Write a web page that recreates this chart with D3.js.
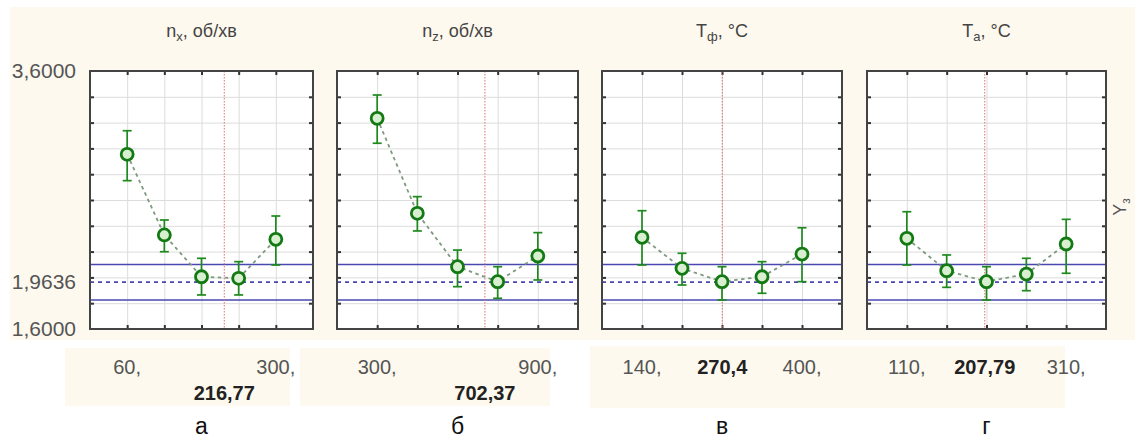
<!DOCTYPE html>
<meta charset="utf-8">
<style>
body { margin: 0; background: #fff; }
text { font-family: 'Liberation Sans', Arial, sans-serif; }
</style>
<body>
<svg width="1144" height="439"></svg>
<script src="https://d3js.org/d3.v7.min.js"></script>
<script>

// data
var titles = [["n", "x", ", об/хв"], ["n", "z", ", об/хв"], ["T", "ф", ", °C"], ["T", "a", ", °C"]];
var levels = [[60, 120, 180, 240, 300], [300, 450, 600, 750, 900], [140, 205, 270, 335, 400], [110, 160, 210, 260, 310]];
var means = [[2.954, 2.329, 2.005, 1.993, 2.295], [3.233, 2.497, 2.083, 1.967, 2.166], [2.311, 2.070, 1.967, 2.005, 2.181], [2.303, 2.052, 1.967, 2.026, 2.259]];
var lows  = [[2.750, 2.199, 1.864, 1.864, 2.096], [3.040, 2.360, 1.928, 1.838, 1.980], [2.096, 1.941, 1.825, 1.877, 1.967], [2.096, 1.923, 1.825, 1.897, 2.032]];
var highs = [[3.137, 2.445, 2.148, 2.122, 2.476], [3.414, 2.626, 2.212, 2.083, 2.347], [2.517, 2.187, 2.083, 2.122, 2.385], [2.509, 2.174, 2.083, 2.148, 2.450]];
var optimum = [216.77, 702.37, 270.4, 207.79];
var optLabels = ["216,77", "702,37", "270,4", "207,79"];
var endLabels = [["60,", "300,"], ["300,", "900,"], ["140,", "400,"], ["110,", "310,"]];
var letters = ["а", "б", "в", "г"];
var yLabels = [3.6, 1.9636, 1.6];
var yGrid = [1.8, 2.0, 2.2, 2.4, 2.6, 2.8, 3.0, 3.2, 3.4];
var target = 1.9636, band = [1.825, 2.10];

var svg = d3.select("svg");
var plotTop = 71, plotBottom = 329;
var px = [90, 337, 602, 867], pw = [223, 241, 240, 239];

svg.append("rect").attr("x", 10).attr("y", 7).attr("width", 1125).attr("height", 333).attr("fill", "#fdf9ee");
[[65, 348, 225, 58], [300, 348, 250, 58], [590, 346, 475, 62]].forEach(function(b) {
  svg.append("rect").attr("x", b[0]).attr("y", b[1]).attr("width", b[2]).attr("height", b[3]).attr("fill", "#fdf9ee");
});

var y = d3.scaleLinear().domain([1.6, 3.6]).range([plotBottom, plotTop]);
var fmt = function(v) { return v.toFixed(4).replace(".", ","); };

svg.selectAll(".ylab").data(yLabels).enter().append("text")
  .attr("x", 76).attr("y", d => y(d)).attr("dy", "0.35em")
  .attr("text-anchor", "end").attr("font-size", 21).attr("fill", "#555")
  .text(fmt);

svg.append("text").attr("transform", "translate(1126,207) rotate(-90)")
  .attr("text-anchor", "middle").attr("font-size", 18).attr("fill", "#555")
  .text("Y").append("tspan").attr("font-size", 12).attr("dy", 4).text("з");

levels.forEach(function(lv, p) {
  var step = lv[1] - lv[0];
  var x = d3.scaleLinear().domain([lv[0] - step, lv[4] + step]).range([px[p], px[p] + pw[p]]);
  var g = svg.append("g");
  var h = plotBottom - plotTop;

  g.append("rect").attr("x", px[p]).attr("y", plotTop).attr("width", pw[p]).attr("height", h).attr("fill", "#fff");

  // grid
  g.append("g").attr("transform", "translate(0," + plotBottom + ")")
    .call(d3.axisBottom(x).tickValues(lv).tickSize(-h).tickFormat(""))
    .call(a => a.select(".domain").remove())
    .call(a => a.selectAll("line").attr("stroke", "#dcdcdc"));
  g.append("g").attr("transform", "translate(" + px[p] + ",0)")
    .call(d3.axisLeft(y).tickValues(yGrid).tickSize(-pw[p]).tickFormat(""))
    .call(a => a.select(".domain").remove())
    .call(a => a.selectAll("line").attr("stroke", "#dcdcdc"));

  // frame ticks
  var tk = [
    [d3.axisBottom(x).tickValues(lv), "translate(0," + plotTop + ")"],
    [d3.axisTop(x).tickValues(lv), "translate(0," + plotBottom + ")"],
    [d3.axisRight(y).tickValues(yGrid), "translate(" + px[p] + ",0)"],
    [d3.axisLeft(y).tickValues(yGrid), "translate(" + (px[p] + pw[p]) + ",0)"]
  ];
  tk.forEach(function(t) {
    g.append("g").attr("transform", t[1])
      .call(t[0].tickSize(4).tickFormat(""))
      .call(a => a.select(".domain").remove())
      .call(a => a.selectAll("line").attr("stroke", "#333").attr("stroke-width", 2));
  });

  // target band
  band.forEach(function(b) {
    g.append("line").attr("x1", px[p]).attr("x2", px[p] + pw[p]).attr("y1", y(b)).attr("y2", y(b))
      .attr("stroke", "#4848b0").attr("stroke-width", 1.7);
  });
  g.append("line").attr("x1", px[p]).attr("x2", px[p] + pw[p]).attr("y1", y(target)).attr("y2", y(target))
    .attr("stroke", "#4848b0").attr("stroke-width", 1.7).attr("stroke-dasharray", "4,4");

  // optimum
  g.append("line").attr("x1", x(optimum[p])).attr("x2", x(optimum[p])).attr("y1", plotTop).attr("y2", plotBottom)
    .attr("stroke", "#e07070").attr("stroke-width", 1).attr("stroke-dasharray", "1.5,1.5");

  var pts = lv.map((v, i) => ({ x: v, m: means[p][i], lo: lows[p][i], hi: highs[p][i] }));

  g.append("path").datum(pts)
    .attr("d", d3.line().x(d => x(d.x)).y(d => y(d.m)))
    .attr("fill", "none").attr("stroke", "#7f9a80").attr("stroke-width", 1.8).attr("stroke-dasharray", "3.5,3.5");

  var e = g.selectAll(".pt").data(pts).enter().append("g");
  e.append("line").attr("x1", d => x(d.x)).attr("x2", d => x(d.x)).attr("y1", d => y(d.lo)).attr("y2", d => y(d.hi))
    .attr("stroke", "#1e8a1e").attr("stroke-width", 1.7);
  ["lo", "hi"].forEach(function(k) {
    e.append("line").attr("x1", d => x(d.x) - 4.5).attr("x2", d => x(d.x) + 4.5)
      .attr("y1", d => y(d[k])).attr("y2", d => y(d[k]))
      .attr("stroke", "#1e8a1e").attr("stroke-width", 1.7);
  });
  e.append("circle").attr("cx", d => x(d.x)).attr("cy", d => y(d.m)).attr("r", 6)
    .attr("fill", "#d8efd0").attr("stroke", "#137a13").attr("stroke-width", 2.8);

  g.append("rect").attr("x", px[p]).attr("y", plotTop).attr("width", pw[p]).attr("height", h)
    .attr("fill", "none").attr("stroke", "#444").attr("stroke-width", 2);

  // title
  var cx = px[p] + pw[p] / 2;
  var t = svg.append("text").attr("x", cx).attr("y", 37).attr("text-anchor", "middle")
    .attr("font-size", 18).attr("fill", "#444");
  t.append("tspan").text(titles[p][0]);
  t.append("tspan").attr("font-size", 13).attr("dy", 4).text(titles[p][1]);
  t.append("tspan").attr("dy", -4).text(titles[p][2]);

  // x labels
  svg.append("text").attr("x", x(lv[0])).attr("y", 374).attr("text-anchor", "middle")
    .attr("font-size", 20).attr("fill", "#555").text(endLabels[p][0]);
  svg.append("text").attr("x", x(lv[4])).attr("y", 374).attr("text-anchor", "middle")
    .attr("font-size", 20).attr("fill", "#555").text(endLabels[p][1]);
  svg.append("text").attr("x", x(optimum[p])).attr("y", p < 2 ? 400 : 374).attr("text-anchor", "middle")
    .attr("font-size", 20).attr("font-weight", "bold").attr("fill", "#222").text(optLabels[p]);

  svg.append("text").attr("x", cx).attr("y", 434).attr("text-anchor", "middle")
    .attr("font-family", "'Liberation Serif', 'Times New Roman', serif")
    .attr("font-size", 23).attr("fill", "#111").text(letters[p]);
});

</script>
</body>
